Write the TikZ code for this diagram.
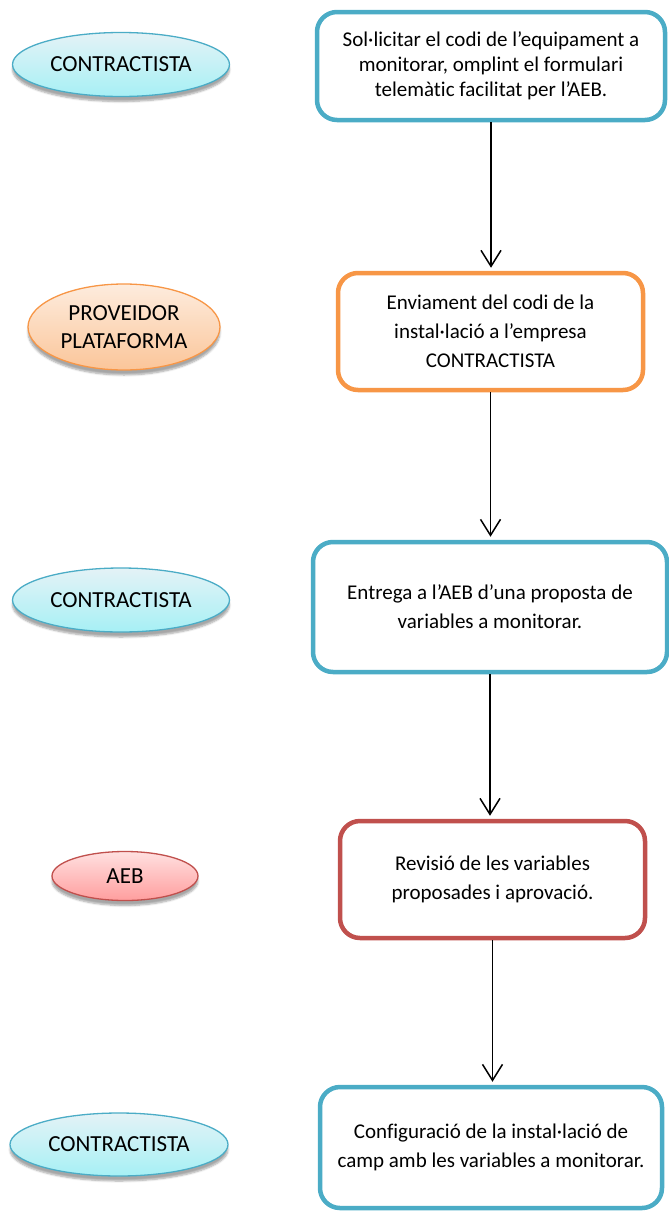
\documentclass[tikz,border=0pt]{standalone}
\usepackage{fontspec}
\setmainfont{Carlito}[Ligatures=NoCommon]
\usetikzlibrary{shapes.geometric, arrows.meta, shadows.blur}
\definecolor{aebblue}{HTML}{4BACC6}
\definecolor{aeborange}{HTML}{F79646}
\definecolor{aebred}{HTML}{C0504D}

\begin{document}
\begin{tikzpicture}[x=1pt, y=-1pt,
		stepbox/.style={draw, rounded corners=20pt, line width=4.5pt, fill=white, align=center, inner sep=0pt, font=\fontsize{21}{29}\selectfont},
		actor/.style={ellipse, line width=1.3pt, align=center, inner sep=0pt, font=\fontsize{23}{28}\selectfont,
			blur shadow={shadow xshift=0pt, shadow yshift=-5pt, shadow opacity=35, shadow blur steps=6}},
		actblue/.style={actor, draw=aebblue, top color=aebblue!15, bottom color=aebblue!45!cyan!40},
		actorange/.style={actor, draw=aeborange, top color=aeborange!18, bottom color=aeborange!55},
		actred/.style={actor, draw=aebred, top color=red!12, bottom color=red!38},
		flow/.style={-{Straight Barb[length=16pt, width=20pt]}, line width=1.5pt, shorten >=3pt}]
		\useasboundingbox (0,0) rectangle (669,1213);
		
		% passos del procediment
		\node[stepbox, draw=aebblue, minimum width=348pt, minimum height=108pt, font=\fontsize{21}{25}\selectfont] (s1) at (491,66) {Sol·licitar el codi de l’equipament a\\monitorar, omplint el formulari\\telemàtic facilitat per l’AEB.};
		\node[stepbox, draw=aeborange, minimum width=305pt, minimum height=117pt] (s2) at (490.5,331.5) {Enviament del codi de la\\instal·lació a l’empresa\\CONTRACTISTA};
		\node[stepbox, draw=aebblue, minimum width=354pt, minimum height=130pt] (s3) at (490,607) {Entrega a l’AEB d’una proposta de\\variables a monitorar.};
		\node[stepbox, draw=aebred, minimum width=305pt, minimum height=117pt] (s4) at (492.5,879.5) {Revisió de les variables\\proposades i aprovació.};
		\node[stepbox, draw=aebblue, minimum width=342pt, minimum height=121pt] (s5) at (491,1147.5) {Configuració de la instal·lació de\\camp amb les variables a monitorar.};
		
		% responsables
		\node[actblue, minimum width=217pt, minimum height=64pt] (r1) at (121,64.5) {CONTRACTISTA};
		\node[actorange, minimum width=192pt, minimum height=86pt] (r2) at (124,327) {PROVEIDOR\\PLATAFORMA};
		\node[actblue, minimum width=217pt, minimum height=64pt] (r3) at (121,600) {CONTRACTISTA};
		\node[actred, minimum width=146pt, minimum height=49pt] (r4) at (125,876) {AEB};
		\node[actblue, minimum width=218pt, minimum height=63pt] (r5) at (119,1144.5) {CONTRACTISTA};
		
		\draw[flow] (s1.south) -- (s1.south |- s2.north);
		\draw[flow] (s2.south) -- (s2.south |- s3.north);
		\draw[flow] (s3.south) -- (s3.south |- s4.north);
		\draw[flow] (s4.south) -- (s4.south |- s5.north);
	\end{tikzpicture}
\end{document}
